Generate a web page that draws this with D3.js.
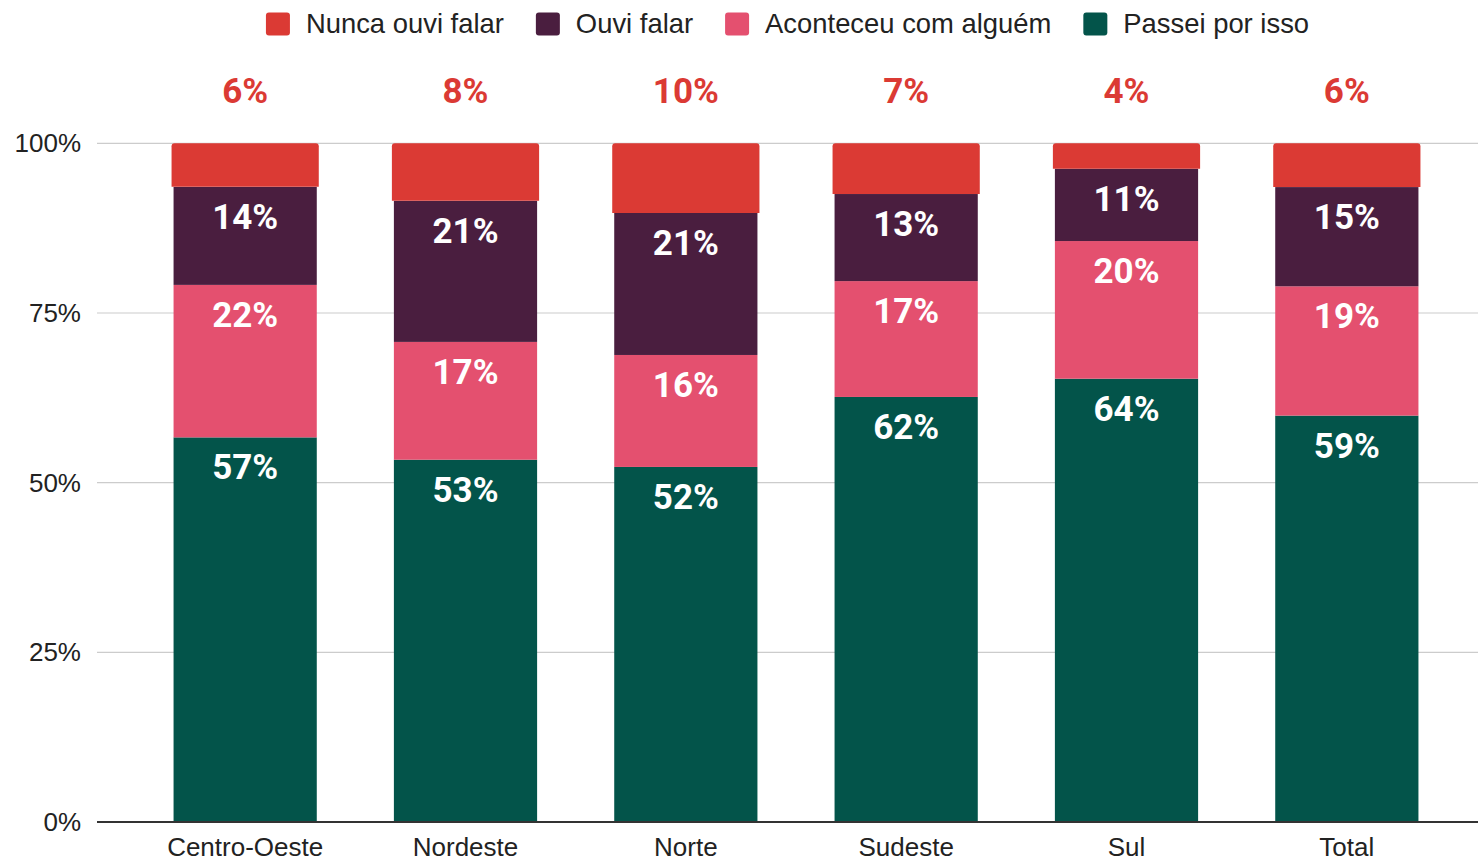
<!DOCTYPE html>
<html>
<head>
<meta charset="utf-8">
<script src="https://cdn.jsdelivr.net/npm/d3@7"></script>
<style>
  body { margin: 0; background: #fff; }
  svg { display: block; }
</style>
</head>
<body>
<script>
var width = 1478,
    height = 862;

// data (percent values per region)
const regions = ["Centro-Oeste", "Nordeste", "Norte", "Sudeste", "Sul", "Total"];
const passei = [56.5, 52.9, 52.0, 62.0, 64.4, 59.4];
const aconteceu = [22.4, 17.2, 16.4, 16.9, 20.0, 18.9];
const ouvi = [14.4, 20.6, 20.8, 12.7, 10.5, 14.5];
const nunca = [6.4, 8.4, 10.2, 7.4, 3.7, 6.4];

const seriesNames = ["Passei por isso", "Aconteceu com alguém", "Ouvi falar", "Nunca ouvi falar"];
const legendOrder = ["Nunca ouvi falar", "Ouvi falar", "Aconteceu com alguém", "Passei por isso"];
const yTicks = [0, 0.25, 0.5, 0.75, 1];

const colors = {
    "Nunca ouvi falar": "#db3a34",
    "Ouvi falar": "#4a1e3f",
    "Aconteceu com alguém": "#e4506f",
    "Passei por isso": "#03544a"
};

var rows = regions.map(function(r, i) {
    return {
        region: r,
        "Passei por isso": passei[i],
        "Aconteceu com alguém": aconteceu[i],
        "Ouvi falar": ouvi[i],
        "Nunca ouvi falar": nunca[i]
    };
});

var stack = d3.stack().keys(seriesNames).offset(d3.stackOffsetExpand);
var layers = stack(rows);

var svg = d3.select("body")
    .append("svg")
    .attr("width", width)
    .attr("height", height);

var plotLeft = 97, plotRight = 1478;

var x = d3.scaleBand()
    .domain(regions)
    .range([135, 1457])
    .paddingInner(0.35)
    .paddingOuter(0.175);

var y = d3.scaleLinear()
    .domain([0, 1])
    .range([822, 143.3]);

// gridlines
svg.append("g")
    .selectAll("line")
    .data(yTicks.filter(function(t) { return t > 0; }))
    .enter()
    .append("line")
    .attr("x1", plotLeft)
    .attr("x2", plotRight)
    .attr("y1", function(d) { return y(d); })
    .attr("y2", function(d) { return y(d); })
    .attr("stroke", "#cccccc")
    .attr("stroke-width", 1.2);

// y tick labels
svg.append("g")
    .selectAll("text")
    .data(yTicks)
    .enter()
    .append("text")
    .attr("x", 81)
    .attr("y", function(d) { return y(d); })
    .attr("dy", "0.35em")
    .attr("text-anchor", "end")
    .style("font-family", "'Liberation Sans', Arial, sans-serif")
    .style("font-size", "26px")
    .style("fill", "#222")
    .text(d3.format(".0%"));

// bars
var bw = x.bandwidth();
layers.forEach(function(layer) {
    var key = layer.key;
    var g = svg.append("g");
    if (key === "Nunca ouvi falar") {
        // top segment is a touch wider with rounded top corners
        g.selectAll("path")
            .data(layer)
            .enter()
            .append("path")
            .attr("fill", colors[key])
            .attr("d", function(d) {
                var x0 = x(d.data.region) - 2, x1 = x0 + bw + 4;
                var y0 = y(d[1]), y1 = y(d[0]), r = 3;
                return "M" + x0 + "," + y1 + "V" + (y0 + r) +
                    "Q" + x0 + "," + y0 + " " + (x0 + r) + "," + y0 +
                    "H" + (x1 - r) + "Q" + x1 + "," + y0 + " " + x1 + "," + (y0 + r) +
                    "V" + y1 + "Z";
            });
    } else {
        g.selectAll("rect")
            .data(layer)
            .enter()
            .append("rect")
            .attr("x", function(d) { return x(d.data.region); })
            .attr("y", function(d) { return y(d[1]); })
            .attr("width", bw)
            .attr("height", function(d) { return y(d[0]) - y(d[1]); })
            .attr("fill", colors[key]);

        g.selectAll("text")
            .data(layer)
            .enter()
            .append("text")
            .attr("x", function(d) { return x(d.data.region) + bw / 2; })
            .attr("y", function(d) { return y(d[1]) + 42; })
            .attr("text-anchor", "middle")
            .style("font-family", "Roboto, sans-serif")
            .style("font-weight", "bold")
            .style("font-size", "35px")
            .style("fill", "#fff")
            .text(function(d) { return Math.round(d.data[key]) + "%"; });
    }
});

// red labels above bars
svg.append("g")
    .selectAll("text")
    .data(rows)
    .enter()
    .append("text")
    .attr("x", function(d) { return x(d.region) + bw / 2; })
    .attr("y", 102.5)
    .attr("text-anchor", "middle")
    .style("font-family", "Roboto, sans-serif")
    .style("font-weight", "bold")
    .style("font-size", "35px")
    .style("fill", colors["Nunca ouvi falar"])
    .text(function(d) { return Math.round(d["Nunca ouvi falar"]) + "%"; });

// baseline
svg.append("line")
    .attr("x1", plotLeft)
    .attr("x2", plotRight)
    .attr("y1", y(0))
    .attr("y2", y(0))
    .attr("stroke", "#333")
    .attr("stroke-width", 2);

// x labels
svg.append("g")
    .selectAll("text")
    .data(regions)
    .enter()
    .append("text")
    .attr("x", function(d) { return x(d) + bw / 2; })
    .attr("y", 856)
    .attr("text-anchor", "middle")
    .style("font-family", "'Liberation Sans', Arial, sans-serif")
    .style("font-size", "26px")
    .style("fill", "#222")
    .text(function(d) { return d; });

// legend, centred over plot area
var legend = svg.append("g");
var items = legend.selectAll("g")
    .data(legendOrder)
    .enter()
    .append("g");
items.append("rect")
    .attr("width", 24)
    .attr("height", 23)
    .attr("y", 12.5)
    .attr("rx", 3)
    .attr("fill", function(d) { return colors[d]; });
items.append("text")
    .attr("x", 40)
    .attr("y", 33)
    .style("font-family", "'Liberation Sans', Arial, sans-serif")
    .style("font-size", "27.4px")
    .style("fill", "#222")
    .text(function(d) { return d; });

var pos = 0;
var offsets = [];
items.each(function() {
    var w = 40 + d3.select(this).select("text").node().getComputedTextLength();
    offsets.push(pos);
    pos += w + 32;
});
var total = pos - 32;
var start = (plotLeft + plotRight) / 2 - total / 2;
items.attr("transform", function(d, i) { return "translate(" + (start + offsets[i]) + ",0)"; });
</script>
</body>
</html>
